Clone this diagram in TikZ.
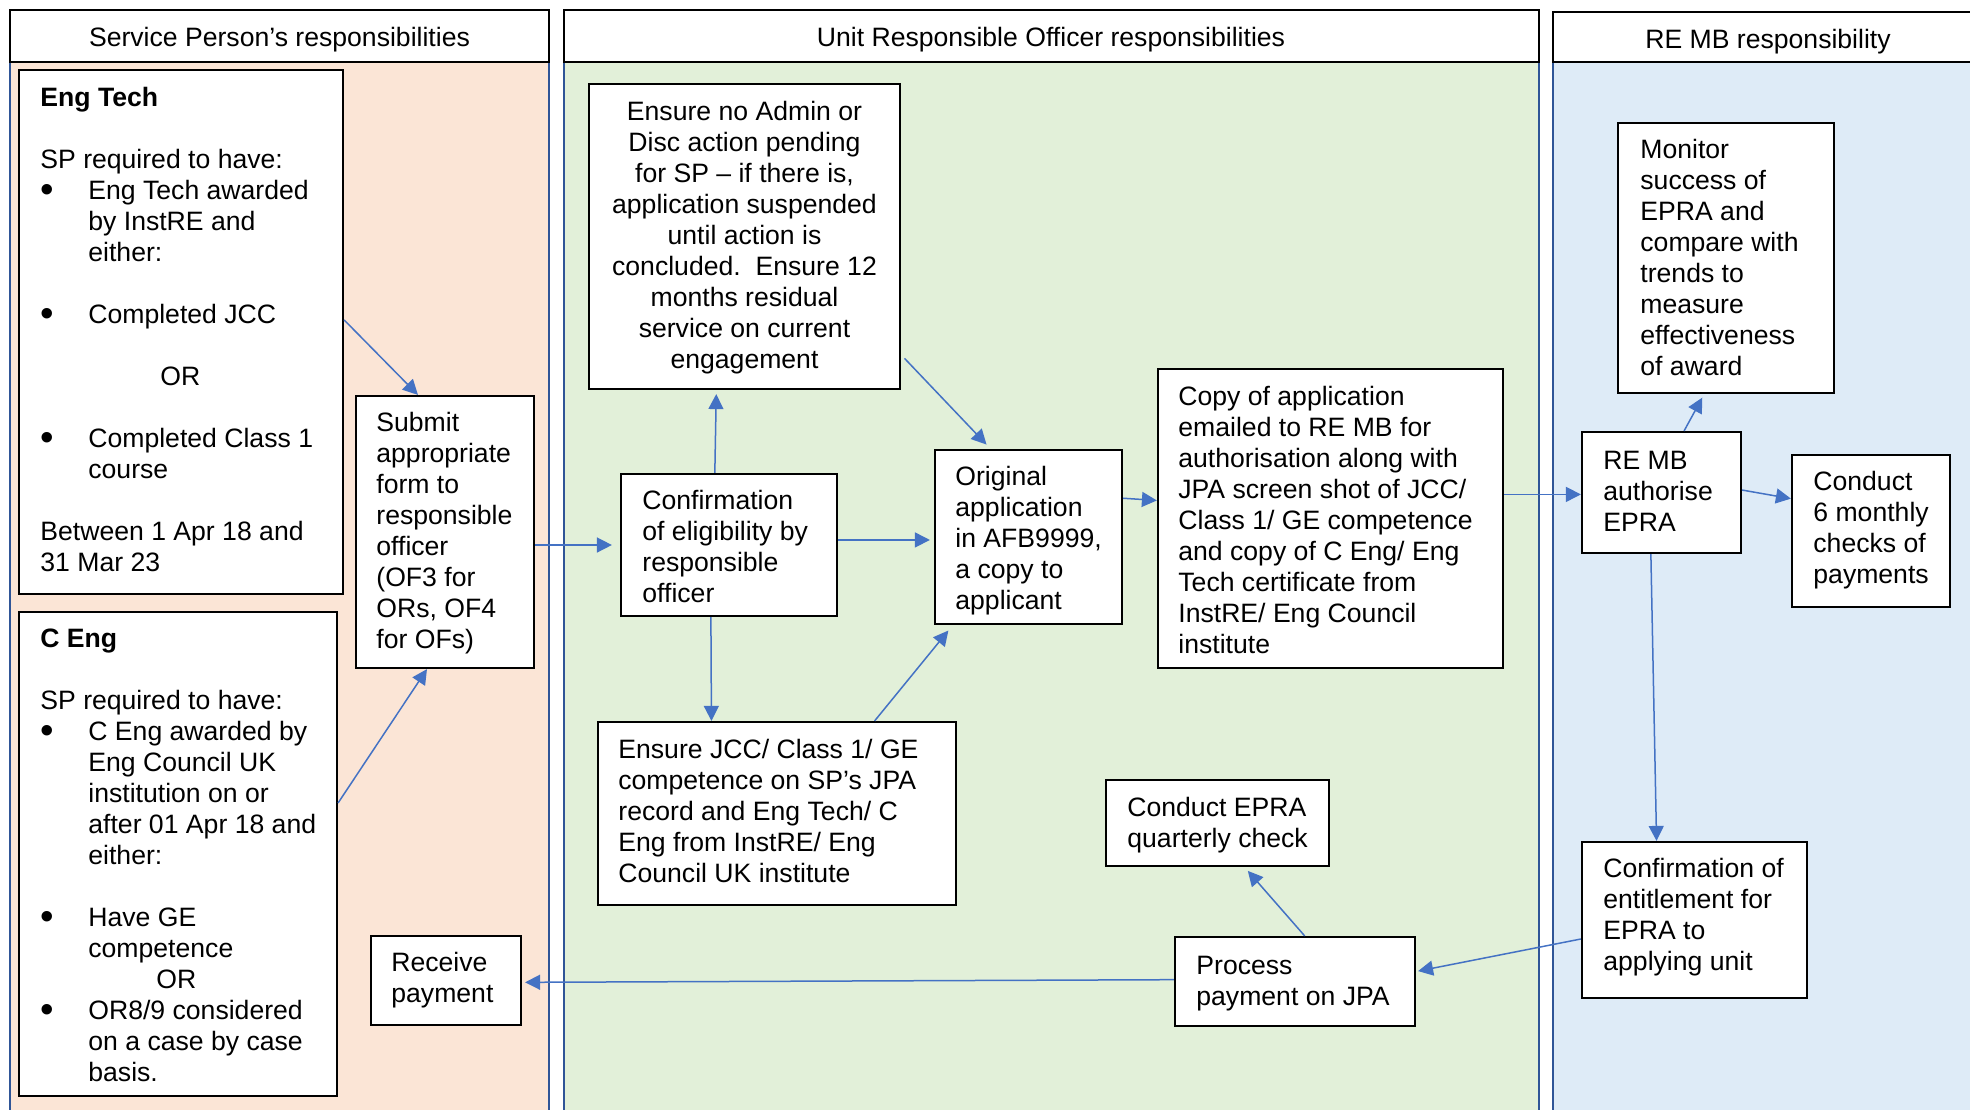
\documentclass[tikz,border=0pt]{standalone}
\usepackage{graphicx}
\usepackage{fontspec}
\setmainfont{Liberation Sans}
\usetikzlibrary{arrows.meta,fit,calc}
\definecolor{peach}{HTML}{FBE5D6}
\definecolor{mint}{HTML}{E2F0D9}
\definecolor{sky}{HTML}{DEEBF7}
\definecolor{laneblue}{HTML}{2F5597}
\definecolor{arrblue}{HTML}{4472C4}
\newcommand\bl{\makebox[24pt][l]{\raisebox{-1.6pt}{\scalebox{1.45}{\textbullet}}}}
\newcommand\ind{\hspace*{24pt}}
\newcommand\skipl{\\[15.5pt]}
\newcommand\mybox[8]{%
  \node[bx, fit={(#2,#3) (#4,#5)}] (#1) {};
  \pgfmathsetmacro\mywd{(#4-#6)*0.5}%
  \node[txt] (#1-t) at (#6,#7) {\parbox[t]{\mywd pt}{\raggedright #8}};
}
\begin{document}
\begin{tikzpicture}[x=0.5pt,y=-0.5pt,
  bx/.style={draw=black, line width=1.1pt, fill=white, inner sep=0pt},
  hdr/.style={draw=black, line width=1.2pt, fill=white, inner sep=0pt},
  lane/.style={draw=laneblue, line width=1.2pt, inner sep=0pt},
  txt/.style={inner sep=0pt, anchor=base west, font=\fontsize{13.3pt}{15.5pt}\selectfont},
  htxt/.style={inner sep=0pt, anchor=base, font=\fontsize{13.3pt}{15.5pt}\selectfont},
  arr/.style={draw=arrblue, line width=0.75pt, -{Triangle[length=7.5pt,width=7.5pt]}}
]
\useasboundingbox (0,0) rectangle (1970,1109);
\clip (0,0) rectangle (1970,1109);
\fill[white] (0,0) rectangle (1970,1109);
% lanes
\node[lane, fill=peach, fit={(10,40) (549,1130)}] (splane) {};
\node[lane, fill=mint, fit={(564,40) (1539,1130)}] (orolane) {};
\node[lane, fill=sky, fit={(1553,40) (1990,1130)}] (remblane) {};
% headers
\node[hdr, fit={(10,10) (549,62)}] (sphead) {};
\node[htxt] (sphead-t) at (279.5,46) {Service Person’s responsibilities};
\node[hdr, fit={(564,10) (1539,62)}] (orohead) {};
\node[htxt] (orohead-t) at (1051,46) {Unit Responsible Officer responsibilities};
\node[hdr, fit={(1553,12) (1985,62)}] (rembhead) {};
\node[htxt] (rembhead-t) at (1768,48) {RE MB responsibility};
% boxes
\mybox{engtech}{19}{70}{343}{594}{40}{106}{\textbf{Eng Tech}\skipl SP required to have:\\ \bl Eng Tech awarded\\ \ind by InstRE and\\ \ind either:\skipl \bl Completed JCC\skipl \hspace*{60pt}OR\skipl \bl Completed Class 1\\ \ind course\skipl Between 1 Apr 18 and\\ 31 Mar 23}
\mybox{ceng}{19}{612}{337}{1096}{40}{647}{\textbf{C Eng}\skipl SP required to have:\\ \bl C Eng awarded by\\ \ind Eng Council UK\\ \ind institution on or\\ \ind after 01 Apr 18 and\\ \ind either:\skipl \bl Have GE\\ \ind competence\\ \hspace*{58pt}OR\\ \bl OR8/9 considered\\ \ind on a case by case\\ \ind basis.}
\mybox{submit}{356}{396}{534}{668}{376}{431}{Submit\\ appropriate\\ form to\\ responsible\\ officer\\ (OF3 for\\ ORs, OF4\\ for OFs)}
\mybox{receive}{371}{936}{521}{1025}{391}{971}{Receive\\ payment}
\node[bx, fit={(589,84) (900,389)}] (admin) {};
\node[txt, anchor=base] (admin-t) at (744.5,120) {\parbox[t]{150pt}{\centering Ensure no Admin or\\ Disc action pending\\ for SP – if there is,\\ application suspended\\ until action is\\ concluded.\ \ Ensure 12\\ months residual\\ service on current\\ engagement}};
\mybox{conf}{621}{474}{837}{616}{642}{509}{Confirmation\\ of eligibility by\\ responsible\\ officer}
\mybox{orig}{935}{450}{1122}{624}{955}{485}{Original\\ application\\ in AFB9999,\\ a copy to\\ applicant}
\mybox{copy}{1158}{369}{1503}{668}{1178}{405}{Copy of application\\ emailed to RE MB for\\ authorisation along with\\ JPA screen shot of JCC/\\ Class 1/ GE competence\\ and copy of C Eng/ Eng\\ Tech certificate from\\ InstRE/ Eng Council\\ institute}
\mybox{jcc}{598}{722}{956}{905}{618}{758}{Ensure JCC/ Class 1/ GE\\ competence on SP’s JPA\\ record and Eng Tech/ C\\ Eng from InstRE/ Eng\\ Council UK institute}
\mybox{quart}{1106}{780}{1329}{866}{1127}{816}{Conduct EPRA\\ quarterly check}
\mybox{process}{1175}{937}{1415}{1026}{1196}{974}{Process\\ payment on JPA}
\mybox{monitor}{1618}{123}{1834}{393}{1640}{158}{Monitor\\ success of\\ EPRA and\\ compare with\\ trends to\\ measure\\ effectiveness\\ of award}
\mybox{remb}{1582}{432}{1741}{553}{1603}{469}{RE MB\\ authorise\\ EPRA}
\mybox{six}{1792}{455}{1950}{607}{1813}{490}{Conduct\\ 6 monthly\\ checks of\\ payments}
\mybox{entitle}{1582}{842}{1807}{998}{1603}{877}{Confirmation of\\ entitlement for\\ EPRA to\\ applying unit}
% connectors
\draw[arr] ($(engtech.north east)!0.477!(engtech.south east)$) -- ($(submit.north west)!0.35!(submit.north east)$);
\draw[arr] ($(ceng.north east)!0.395!(ceng.south east)$) -- ($(submit.south west)!0.40!(submit.south east)$);
\draw[arr, shorten >=4pt] (conf.west -| submit.east) -- (conf.west);
\draw[arr, shorten >=2pt] ($(conf.north west)!0.435!(conf.north east)$) -- ($(admin.south west)!0.41!(admin.south east)$);
\draw[arr, shorten <=2.5pt, shorten >=3pt] ($(admin.north east)!0.885!(admin.south east)$) -- ($(orig.north west)!0.30!(orig.north east)$);
\coordinate (c6) at ($(conf.north east)!0.465!(conf.south east)$);
\draw[arr, shorten >=2pt] (c6) -- (c6 -| orig.west);
\draw[arr] ($(conf.south west)!0.417!(conf.south east)$) -- ($(jcc.north west)!0.318!(jcc.north east)$);
\draw[arr, shorten >=3.5pt] ($(jcc.north west)!0.771!(jcc.north east)$) -- ($(orig.south west)!0.10!(orig.south east)$);
\draw[arr] ($(orig.north east)!0.28!(orig.south east)$) -- ($(copy.north west)!0.44!(copy.south west)$);
\coordinate (c10) at ($(copy.north east)!0.42!(copy.south east)$);
\draw[arr] (c10) -- (c10 -| remb.west);
\draw[arr, shorten >=2pt] ($(remb.north west)!0.64!(remb.north east)$) -- ($(monitor.south west)!0.40!(monitor.south east)$);
\draw[arr] ($(remb.north east)!0.48!(remb.south east)$) -- ($(six.north west)!0.29!(six.south west)$);
\draw[arr] ($(remb.south west)!0.434!(remb.south east)$) -- ($(entitle.north west)!0.333!(entitle.north east)$);
\draw[arr, shorten >=1pt] ($(entitle.north west)!0.62!(entitle.south west)$) -- ($(process.north east)!0.39!(process.south east)$);
\draw[arr, shorten >=2.5pt] ($(process.north west)!0.54!(process.north east)$) -- ($(quart.south west)!0.62!(quart.south east)$);
\draw[arr, shorten >=1.5pt] ($(process.north west)!0.48!(process.south west)$) -- ($(receive.north east)!0.52!(receive.south east)$);
\end{tikzpicture}
\end{document}
